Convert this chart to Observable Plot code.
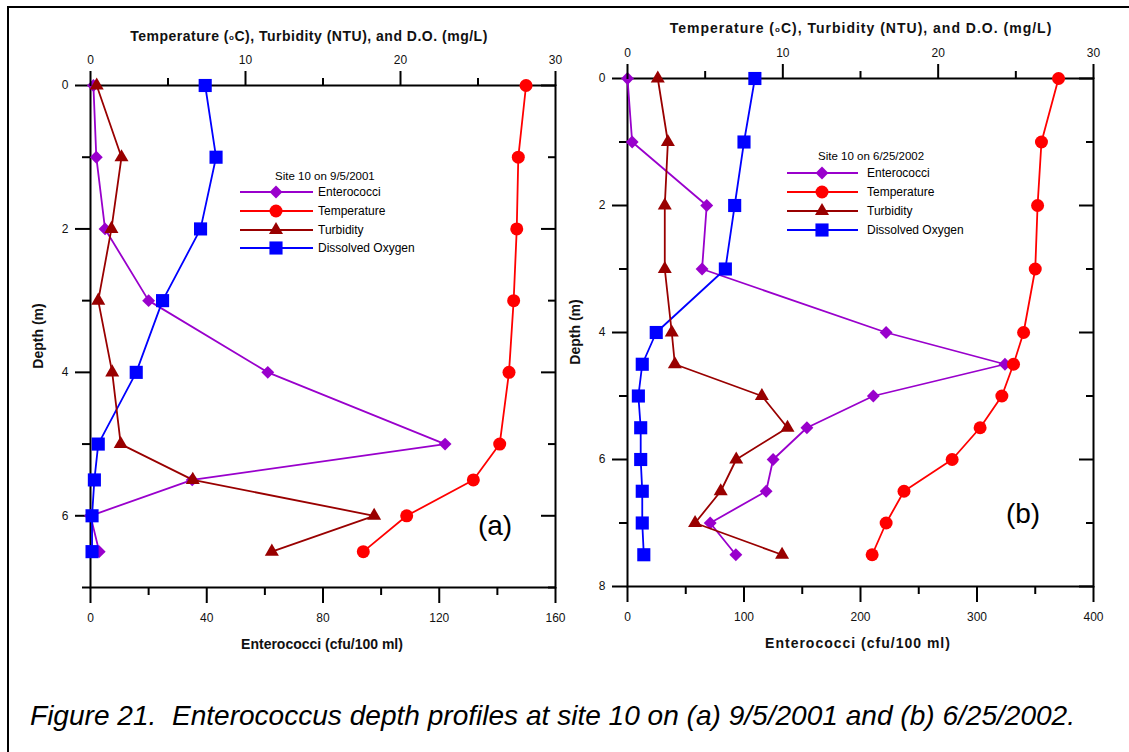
<!DOCTYPE html>
<html>
<head>
<meta charset="utf-8">
<script src="https://cdn.jsdelivr.net/npm/d3@7"></script>
<script src="https://cdn.jsdelivr.net/npm/@observablehq/plot@0.6"></script>
<style>
  html, body { margin: 0; padding: 0; background: #fff; }
  body { width: 1129px; height: 752px; overflow: hidden; position: relative; font-family: "Liberation Sans", Arial, sans-serif; }
  .frame { position: absolute; left: 7px; top: 6px; width: 1200px; height: 900px; border: 2px solid #000; box-sizing: border-box; }
  .ttl { position: absolute; font-weight: bold; font-size: 14px; color: #111; white-space: nowrap; transform: translate(-50%, -50%); }
  .ttl.top { letter-spacing: 0.5px; }
  .ylab { position: absolute; font-weight: bold; font-size: 14px; color: #111; white-space: nowrap; transform: translate(-50%, -50%) rotate(-90deg); }
  .panel-tag { position: absolute; font-size: 28px; color: #000; transform: translate(-50%, -50%); }
  .caption { position: absolute; left: 30px; top: 699px; font-style: italic; font-size: 28.5px; color: #000; white-space: pre; transform-origin: left top; }
  .small-o { font-size: 8px; position: relative; top: -1px; }
</style>
</head>
<body>
<div class="frame"></div>
<script>
// ---------------- DATA ----------------
const seriesNames = ["Enterococci", "Temperature", "Turbidity", "Dissolved Oxygen"];
const seriesColors = ["#9900CC", "#FF0000", "#990000", "#0000FF"];

// Panel (a): Site 10 on 9/5/2001
const depthA = [0, 1, 2, 3, 4, 5, 5.5, 6, 6.5];
const enteroA = [1, 2, 5, 20, 61, 122, 35, 0, 3];
const tempA = [28.1, 27.6, 27.5, 27.3, 27.0, 26.4, 24.7, 20.4, 17.6];
const turbA = [0.4, 2.0, 1.35, 0.5, 1.4, 1.95, 6.6, 18.3, 11.7];
const doA = [7.4, 8.1, 7.1, 4.65, 2.95, 0.5, 0.25, 0.1, 0.1];

// Panel (b): Site 10 on 6/25/2002
const depthB = [0, 1, 2, 3, 4, 4.5, 5, 5.5, 6, 6.5, 7, 7.5];
const enteroB = [0, 4, 68, 64, 222, 324, 211, 154, 125, 119, 71, 93];
const tempB = [27.75, 26.65, 26.4, 26.25, 25.5, 24.85, 24.1, 22.7, 20.9, 17.8, 16.65, 15.75];
const turbB = [1.95, 2.6, 2.4, 2.4, 2.85, 3.05, 8.65, 10.3, 7.0, 6.0, 4.35, 9.95];
const doB = [8.2, 7.5, 6.9, 6.3, 1.85, 0.95, 0.7, 0.85, 0.85, 0.95, 0.95, 1.05];

// Tick values
const topMajor = [0, 10, 20, 30];
const topMinor = [5, 15, 25];
const bottomMajorA = [0, 40, 80, 120, 160];
const bottomMinorA = [20, 60, 100, 140];
const bottomMajorB = [0, 100, 200, 300, 400];
const bottomMinorB = [50, 150, 250, 350];
const depthMajorA = [0, 2, 4, 6];
const depthMinorA = [1, 3, 5, 7];
const depthMajorB = [0, 2, 4, 6, 8];
const depthMinorB = [1, 3, 5, 7];

// Text
const topTitle = 'Temperature (<span class="small-o">o</span>C), Turbidity (NTU), and D.O. (mg/L)';
const bottomTitle = "Enterococci (cfu/100 ml)";
const depthTitle = "Depth (m)";
const legendTitleA = "Site 10 on 9/5/2001";
const legendTitleB = "Site 10 on 6/25/2002";
const captionText = "Figure 21.  Enterococcus depth profiles at site 10 on (a) 9/5/2001 and (b) 6/25/2002.";

// ---------------- DRAWING ----------------
const symbols = ["diamond2", "circle", "triangle", "square"];
const d3Symbols = [d3.symbolDiamond2, d3.symbolCircle, d3.symbolTriangle, d3.symbolSquare];
const radii = [5.8, 6.5, 5.2, 7.4];
const font = "'Liberation Sans', Arial, sans-serif";
const intFmt = d => String(d);

function rows(depths, values) {
  return depths.map((d, i) => ({depth: d, value: values[i]}));
}

function place(el, left, top) {
  el.style.position = "absolute";
  el.style.left = left + "px";
  el.style.top = top + "px";
  document.body.appendChild(el);
}

function seriesMarks(data, k) {
  return [
    Plot.line(data, {x: "value", y: "depth", stroke: seriesColors[k], strokeWidth: 1.8}),
    Plot.dot(data, {x: "value", y: "depth", symbol: symbols[k], fill: seriesColors[k], stroke: "none", r: radii[k]})
  ];
}

function panel(cfg) {
  const common = {
    width: cfg.width, height: cfg.height,
    marginLeft: cfg.ml, marginRight: cfg.mr, marginTop: cfg.mt, marginBottom: cfg.mb,
    style: {fontFamily: font, fontSize: "12px", background: "transparent", color: "#111", overflow: "visible"}
  };
  const yScale = {domain: [0, cfg.ymax], reverse: true};
  const tickStyle = {stroke: "#000", strokeWidth: 2, label: null};

  // Base plot: Enterococci on the bottom x scale, depth axes and frame
  const base = Plot.plot({
    ...common,
    x: {domain: [0, cfg.xmax]},
    y: yScale,
    marks: [
      Plot.frame({stroke: "#000", strokeWidth: 2}),
      Plot.axisX({anchor: "bottom", ticks: cfg.bMajor, tickSize: 16, tickPadding: 10, tickFormat: intFmt, ...tickStyle}),
      Plot.axisX({anchor: "bottom", ticks: cfg.bMinor, tickSize: 8, tickFormat: () => "", ...tickStyle}),
      Plot.axisY({anchor: "left", ticks: cfg.dMajor, tickSize: 15, tickPadding: 7, tickFormat: intFmt, ...tickStyle}),
      Plot.axisY({anchor: "left", ticks: cfg.dMinor, tickSize: 8, tickFormat: () => "", ...tickStyle}),
      Plot.axisY({anchor: "right", ticks: cfg.dMajor, tickSize: -15, tickFormat: () => "", ...tickStyle}),
      Plot.axisY({anchor: "right", ticks: cfg.dMinor, tickSize: -8, tickFormat: () => "", ...tickStyle}),
      ...seriesMarks(rows(cfg.depth, cfg.entero), 0)
    ]
  });
  place(base, cfg.left, 0);

  // Overlay plot: Temperature / Turbidity / D.O. on the top x scale
  const over = Plot.plot({
    ...common,
    x: {domain: [0, 30]},
    y: {...yScale, axis: null},
    marks: [
      Plot.axisX({anchor: "top", ticks: topMajor, tickSize: 15, tickPadding: 7, tickFormat: intFmt, ...tickStyle}),
      Plot.axisX({anchor: "top", ticks: topMinor, tickSize: 8, tickFormat: () => "", ...tickStyle}),
      ...seriesMarks(rows(cfg.depth, cfg.dox), 3),
      ...seriesMarks(rows(cfg.depth, cfg.turb), 2),
      ...seriesMarks(rows(cfg.depth, cfg.temp), 1)
    ]
  });
  place(over, cfg.left, 0);

  // Axis titles
  const t1 = document.createElement("div"); t1.className = "ttl top"; t1.innerHTML = topTitle;
  t1.style.letterSpacing = cfg.topSpacing + "px";
  place(t1, cfg.topTitle[0], cfg.topTitle[1]);
  const t2 = document.createElement("div"); t2.className = "ttl"; t2.textContent = bottomTitle;
  t2.style.letterSpacing = cfg.botSpacing + "px";
  place(t2, cfg.botTitle[0], cfg.botTitle[1]);
  const t3 = document.createElement("div"); t3.className = "ylab"; t3.textContent = depthTitle;
  place(t3, cfg.yTitle[0], cfg.yTitle[1]);
  const tag = document.createElement("div"); tag.className = "panel-tag"; tag.textContent = cfg.tag;
  place(tag, cfg.tagPos[0], cfg.tagPos[1]);

  // Legend
  const L = cfg.legend;
  const svg = d3.create("svg").attr("width", 260).attr("height", 100)
    .style("overflow", "visible").style("font-family", font);
  svg.append("text").attr("x", L.titleX).attr("y", L.titleY).attr("dy", "0.35em")
    .attr("font-size", 11.5).attr("fill", "#000").text(L.title);
  seriesNames.forEach((name, k) => {
    const y = L.rowY[k];
    svg.append("line").attr("x1", L.x1).attr("x2", L.x2).attr("y1", y).attr("y2", y)
      .attr("stroke", seriesColors[k]).attr("stroke-width", 1.8);
    svg.append("path").attr("transform", `translate(${L.mx},${y})`)
      .attr("d", d3.symbol(d3Symbols[k], Math.PI * radii[k] * radii[k])())
      .attr("fill", seriesColors[k]);
    svg.append("text").attr("x", L.tx).attr("y", y).attr("dy", "0.35em")
      .attr("font-size", 12).attr("fill", "#000").text(name);
  });
  place(svg.node(), L.left, L.top);
}

panel({
  left: 0, width: 565, height: 660, ml: 90, mr: 10, mt: 85, mb: 73,
  xmax: 160, ymax: 7,
  bMajor: bottomMajorA, bMinor: bottomMinorA, dMajor: depthMajorA, dMinor: depthMinorA,
  depth: depthA, entero: enteroA, temp: tempA, turb: turbA, dox: doA,
  topTitle: [309, 36], botTitle: [322, 644], yTitle: [38, 336], topSpacing: 0.5, botSpacing: 0,
  tag: "(a)", tagPos: [495, 526],
  legend: {left: 230, top: 160, title: legendTitleA, titleX: 45, titleY: 16,
           rowY: [32, 51, 70, 88], x1: 10, x2: 83, mx: 46, tx: 88}
});

panel({
  left: 565, width: 564, height: 660, ml: 62, mr: 36, mt: 78, mb: 74,
  xmax: 400, ymax: 8,
  bMajor: bottomMajorB, bMinor: bottomMinorB, dMajor: depthMajorB, dMinor: depthMinorB,
  depth: depthB, entero: enteroB, temp: tempB, turb: turbB, dox: doB,
  topTitle: [861, 28], botTitle: [858, 643], yTitle: [575, 332], topSpacing: 1, botSpacing: 1,
  tag: "(b)", tagPos: [1023, 514],
  legend: {left: 777, top: 140, title: legendTitleB, titleX: 41, titleY: 16,
           rowY: [33, 52, 71, 90], x1: 10, x2: 81, mx: 45, tx: 90}
});

// Caption
const cap = document.createElement("div");
cap.className = "caption";
cap.textContent = captionText;
document.body.appendChild(cap);
const w = cap.getBoundingClientRect().width;
cap.style.transform = `scaleX(${1045 / w})`;
</script>
</body>
</html>
